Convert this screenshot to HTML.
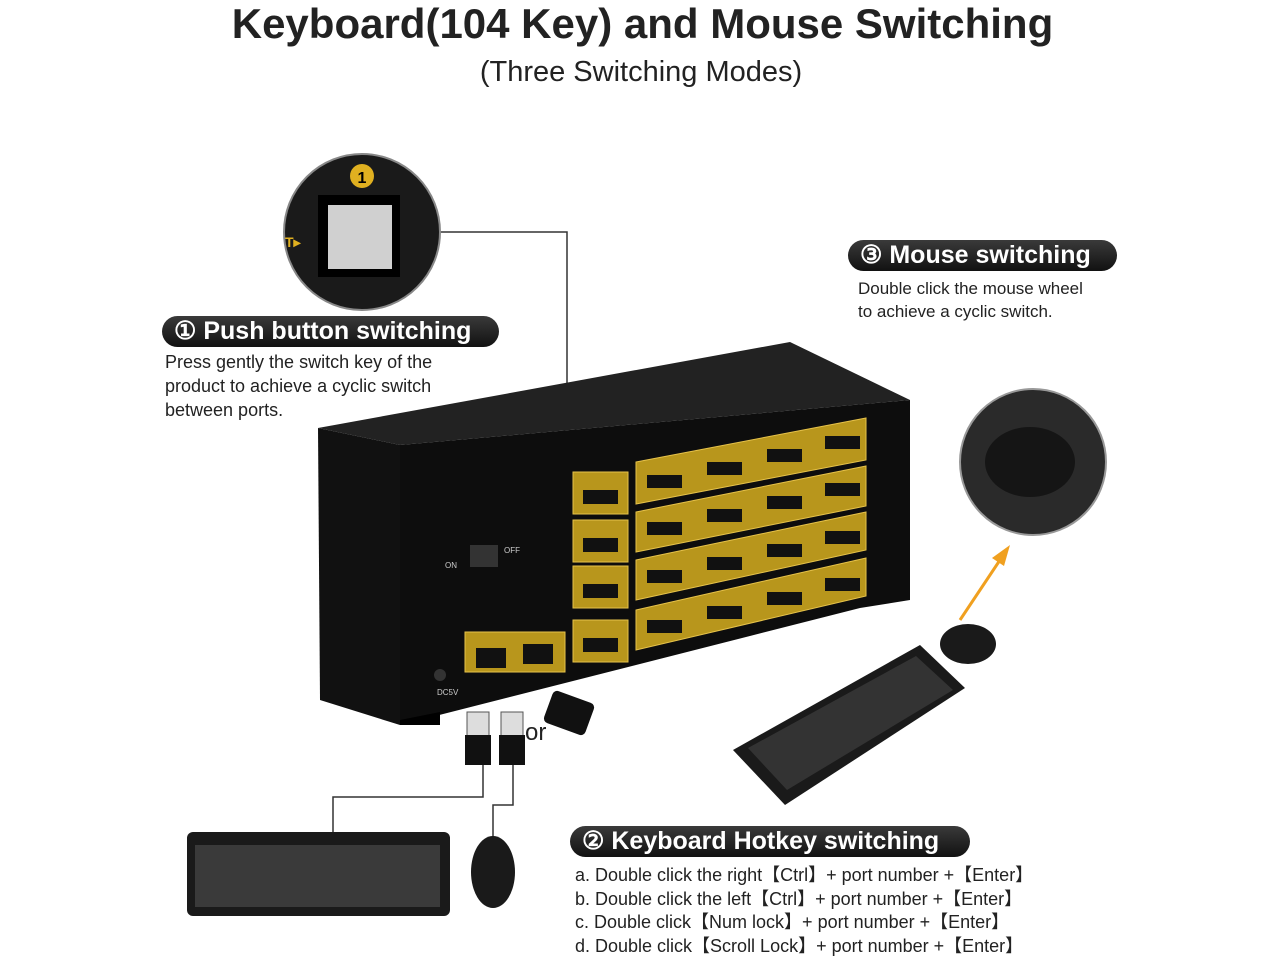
<!DOCTYPE html>
<html><head><meta charset="utf-8"><style>
body{margin:0;width:1280px;height:960px;background:#fff;position:relative;overflow:hidden;font-family:"Liberation Sans",sans-serif;color:#222}
.a{position:absolute}
.pill{position:absolute;height:31px;border-radius:16px;background:linear-gradient(#3a3a3a,#111);color:#fff;font-weight:bold;font-size:25px;line-height:31px;padding-left:12px;box-sizing:border-box;white-space:nowrap}
.t{position:absolute;font-size:18px;line-height:24px;color:#222;white-space:nowrap}
</style></head><body>
<div class="a" style="left:0;width:1285px;top:1px;text-align:center;font-size:42px;font-weight:bold;line-height:46px">Keyboard(104 Key) and Mouse Switching</div>
<div class="a" style="left:0;width:1282px;top:54px;text-align:center;font-size:29px;line-height:36px">(Three Switching Modes)</div>

<svg class="a" style="left:0;top:0" width="1280" height="960">
<polyline points="438,232 567,232 567,383" fill="none" stroke="#333" stroke-width="1.5"/>
<polyline points="333,873 333,797 483,797 483,760" fill="none" stroke="#333" stroke-width="1.5"/>
<polyline points="493,838 493,805 513,805 513,760" fill="none" stroke="#333" stroke-width="1.5"/>
<circle cx="362" cy="232" r="78" fill="#1a1a1a" stroke="#888" stroke-width="2"/>
<rect x="318" y="195" width="82" height="82" fill="#000"/>
<rect x="328" y="205" width="64" height="64" fill="#d0d0d0"/>
<circle cx="362" cy="176" r="12" fill="#e0b020"/>
<text x="362" y="183" font-size="16" font-weight="bold" text-anchor="middle" fill="#000" font-family="Liberation Sans">1</text>
<text x="285" y="247" font-size="14" font-weight="bold" fill="#e0b020" font-family="Liberation Sans">T▸</text>
<polygon points="318,428 790,342 910,400 400,445" fill="#222"/>
<polygon points="318,428 400,445 400,725 320,700" fill="#111"/>
<polygon points="400,445 910,400 910,600 860,608 400,725" fill="#0d0d0d"/>
<polygon points="400,720 440,712 440,725 400,725" fill="#000"/>
<rect x="470" y="545" width="28" height="22" fill="#333"/>
<text x="445" y="568" font-size="8" fill="#ccc">ON</text><text x="504" y="553" font-size="8" fill="#ccc">OFF</text>
<g fill="#b8961c" stroke="#e6c24a">
<rect x="573" y="472" width="55" height="42"/><rect x="573" y="520" width="55" height="42"/><rect x="573" y="566" width="55" height="42"/><rect x="573" y="620" width="55" height="42"/>
<polygon points="636,462 866,418 866,460 636,504"/>
<polygon points="636,512 866,466 866,506 636,552"/>
<polygon points="636,560 866,512 866,550 636,600"/>
<polygon points="636,610 866,558 866,596 636,650"/>
<rect x="465" y="632" width="100" height="40"/>
</g>
<g fill="#111">
<rect x="583" y="490" width="35" height="14"/><rect x="583" y="538" width="35" height="14"/><rect x="583" y="584" width="35" height="14"/><rect x="583" y="638" width="35" height="14"/>
<rect x="476" y="648" width="30" height="20"/><rect x="523" y="644" width="30" height="20"/>
</g>
<g fill="#111">
<rect x="647" y="475" width="35" height="13"/><rect x="707" y="462" width="35" height="13"/><rect x="767" y="449" width="35" height="13"/><rect x="825" y="436" width="35" height="13"/>
<rect x="647" y="522" width="35" height="13"/><rect x="707" y="509" width="35" height="13"/><rect x="767" y="496" width="35" height="13"/><rect x="825" y="483" width="35" height="13"/>
<rect x="647" y="570" width="35" height="13"/><rect x="707" y="557" width="35" height="13"/><rect x="767" y="544" width="35" height="13"/><rect x="825" y="531" width="35" height="13"/>
<rect x="647" y="620" width="35" height="13"/><rect x="707" y="606" width="35" height="13"/><rect x="767" y="592" width="35" height="13"/><rect x="825" y="578" width="35" height="13"/>
</g>
<text x="437" y="695" font-size="8" fill="#ccc">DC5V</text>
<circle cx="440" cy="675" r="6" fill="#333"/>
<rect x="467" y="712" width="22" height="28" fill="#ddd" stroke="#555"/><rect x="465" y="735" width="26" height="30" fill="#111"/>
<rect x="501" y="712" width="22" height="28" fill="#ddd" stroke="#555"/><rect x="499" y="735" width="26" height="30" fill="#111"/>
<rect x="547" y="696" width="44" height="34" rx="5" fill="#111" transform="rotate(20 569 713)"/>
<text x="525" y="740" font-size="24" fill="#222" font-family="Liberation Sans">or</text>
<circle cx="1033" cy="462" r="73" fill="#2a2a2a" stroke="#999" stroke-width="2"/>
<ellipse cx="1030" cy="462" rx="45" ry="35" fill="#151515"/>
<line x1="960" y1="620" x2="1000" y2="560" stroke="#f0a020" stroke-width="3"/>
<polygon points="1010,545 992,558 1004,566" fill="#f0a020"/>
<ellipse cx="968" cy="644" rx="28" ry="20" fill="#1a1a1a"/>
<polygon points="733,750 920,645 965,688 785,805" fill="#1a1a1a"/>
<polygon points="748,748 916,656 953,690 787,790" fill="#333"/>
<rect x="187" y="832" width="263" height="84" rx="6" fill="#1a1a1a"/>
<rect x="195" y="845" width="245" height="62" fill="#3a3a3a"/>
<ellipse cx="493" cy="872" rx="22" ry="36" fill="#1a1a1a"/>
</svg>

<div class="pill" style="left:162px;top:316px;width:337px">① Push button switching</div>
<div class="t" style="left:165px;top:350px">Press gently the switch key of the<br>product to achieve a cyclic switch<br>between ports.</div>
<div class="pill" style="left:848px;top:240px;width:269px">③ Mouse switching</div>
<div class="t" style="left:858px;top:277px;font-size:17px;line-height:23px">Double click the mouse wheel<br>to achieve a cyclic switch.</div>
<div class="pill" style="left:570px;top:826px;width:400px">② Keyboard Hotkey switching</div>
<div class="t" style="left:575px;top:864px;line-height:23.5px">a. Double click the right【Ctrl】+ port number +【Enter】<br>b. Double click the left【Ctrl】+ port number +【Enter】<br>c. Double click【Num lock】+ port number +【Enter】<br>d. Double click【Scroll Lock】+ port number +【Enter】</div>
</body></html>
